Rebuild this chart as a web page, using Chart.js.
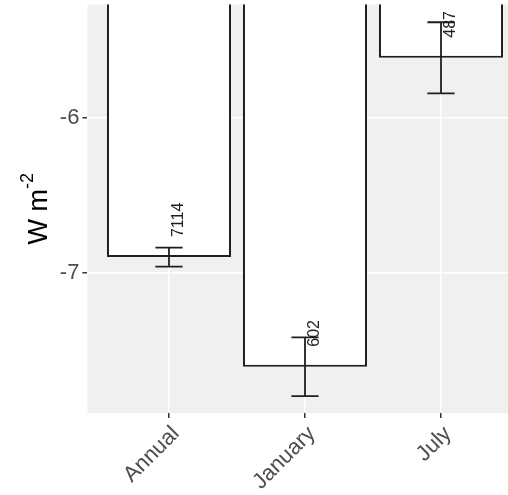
<!DOCTYPE html>
<html>
<head>
<meta charset="utf-8">
<script src="https://cdn.jsdelivr.net/npm/chart.js@4/dist/chart.umd.min.js"></script>
<style>
  html, body { margin: 0; padding: 0; background: #fff; overflow: hidden; width: 508px; height: 495px; }
  canvas { display: block; }
</style>
</head>
<body>
<canvas id="c" width="540" height="495"></canvas>
<script>
// Mean flux per period, half-width of its error bar, and sample counts
const categories = ['Annual', 'January', 'July'];
const meanFlux = [-6.90, -7.61, -5.61];
const errHalf = [0.062, 0.19, 0.23];
const sampleCounts = [7114, 602, 487];
const yTickValues = [-7, -6];
const yLimits = [-7.909, -5.265];

const FONT = '"Liberation Sans", Arial, Helvetica, sans-serif';
const INK = '#1e1e1e';

// grey panel behind the plot area
const panelBackground = {
  id: 'panelBackground',
  beforeDraw(chart) {
    const { ctx, chartArea: a } = chart;
    ctx.save();
    ctx.fillStyle = '#f0f0f0';
    ctx.fillRect(a.left, a.top, a.right - a.left, a.bottom - a.top);
    ctx.restore();
  }
};

// error bars and rotated count labels
const errorBarsAndCounts = {
  id: 'errorBarsAndCounts',
  afterDatasetsDraw(chart) {
    const { ctx, chartArea: a } = chart;
    const xs = chart.scales.x, ys = chart.scales.y;
    ctx.save();
    ctx.beginPath();
    ctx.rect(a.left, a.top, a.right - a.left, a.bottom - a.top);
    ctx.clip();
    ctx.strokeStyle = INK;
    ctx.lineWidth = 1.8;
    meanFlux.forEach((m, i) => {
      const xc = xs.getPixelForValue(i);
      const xl = xs.getPixelForValue(i - 0.1);
      const xr = xs.getPixelForValue(i + 0.1);
      const yTop = ys.getPixelForValue(m + errHalf[i]);
      const yBot = ys.getPixelForValue(m - errHalf[i]);
      ctx.beginPath();
      ctx.moveTo(xc, yTop); ctx.lineTo(xc, yBot);
      ctx.moveTo(xl, yTop); ctx.lineTo(xr, yTop);
      ctx.moveTo(xl, yBot); ctx.lineTo(xr, yBot);
      ctx.stroke();
    });
    ctx.fillStyle = INK;
    ctx.font = '16px ' + FONT;
    ctx.textAlign = 'left';
    ctx.textBaseline = 'middle';
    sampleCounts.forEach((n, i) => {
      const x = xs.getPixelForValue(i) + 10;
      const y = ys.getPixelForValue(meanFlux[i] + 0.13);
      ctx.save();
      ctx.translate(x, y);
      ctx.rotate(-Math.PI / 2);
      ctx.fillText(String(n), 0, 0);
      ctx.restore();
    });
    ctx.restore();
  }
};

// y-axis title with superscript exponent
const unitTitle = {
  id: 'unitTitle',
  afterDraw(chart) {
    const { ctx, chartArea: a } = chart;
    const cy = (a.top + a.bottom) / 2;
    const mainFont = '27px ' + FONT;
    const supFont = '18px ' + FONT;
    ctx.save();
    ctx.font = mainFont;
    const wMain = ctx.measureText('W m').width;
    ctx.font = supFont;
    const wSup = ctx.measureText('-2').width;
    const total = wMain + wSup;
    ctx.translate(47, cy);
    ctx.rotate(-Math.PI / 2);
    ctx.fillStyle = '#000';
    ctx.textAlign = 'left';
    ctx.textBaseline = 'alphabetic';
    ctx.font = mainFont;
    ctx.fillText('W m', -total / 2, 0);
    ctx.font = supFont;
    ctx.fillText('-2', -total / 2 + wMain, -14);
    ctx.restore();
  }
};

new Chart(document.getElementById('c'), {
  type: 'bar',
  data: {
    datasets: [{
      data: meanFlux.map((v, i) => ({ x: i, y: v })),
      backgroundColor: '#ffffff',
      borderColor: INK,
      borderWidth: 2,
      borderSkipped: 'start',
      barPercentage: 0.912,
      categoryPercentage: 1
    }]
  },
  options: {
    responsive: false,
    animation: false,
    devicePixelRatio: 1,
    layout: { padding: { left: 0, top: 4.5, right: 17.4, bottom: 0 } },
    plugins: { legend: { display: false }, tooltip: { enabled: false } },
    scales: {
      x: {
        type: 'linear',
        min: -0.6,
        max: 2.6,
        offset: false,
        afterBuildTicks: s => { s.ticks = categories.map((_, i) => ({ value: i })); },
        afterFit: s => { s.height = 82; s.paddingLeft = 0; s.paddingRight = 0; },
        ticks: {
          autoSkip: false,
          minRotation: 45,
          maxRotation: 45,
          padding: 3,
          labelOffset: 7,
          color: '#4d4d4d',
          font: { family: FONT, size: 22 },
          callback: v => categories[v]
        },
        grid: { color: '#ffffff', lineWidth: 1.5, offset: false, tickColor: '#333333', tickLength: 5, tickWidth: 1.5 },
        border: { display: false }
      },
      y: {
        type: 'linear',
        min: yLimits[0],
        max: yLimits[1],
        beginAtZero: false,
        afterBuildTicks: s => { s.ticks = yTickValues.map(v => ({ value: v })); },
        afterFit: s => { s.width = 87.4; s.paddingTop = 0; s.paddingBottom = 0; },
        ticks: {
          padding: 3,
          color: '#4d4d4d',
          font: { family: FONT, size: 22 },
          callback: v => String(v)
        },
        grid: { color: '#ffffff', lineWidth: 1.5, tickColor: '#333333', tickLength: 5, tickWidth: 1.5 },
        border: { display: false }
      }
    }
  },
  plugins: [panelBackground, errorBarsAndCounts, unitTitle]
});
</script>
</body>
</html>
